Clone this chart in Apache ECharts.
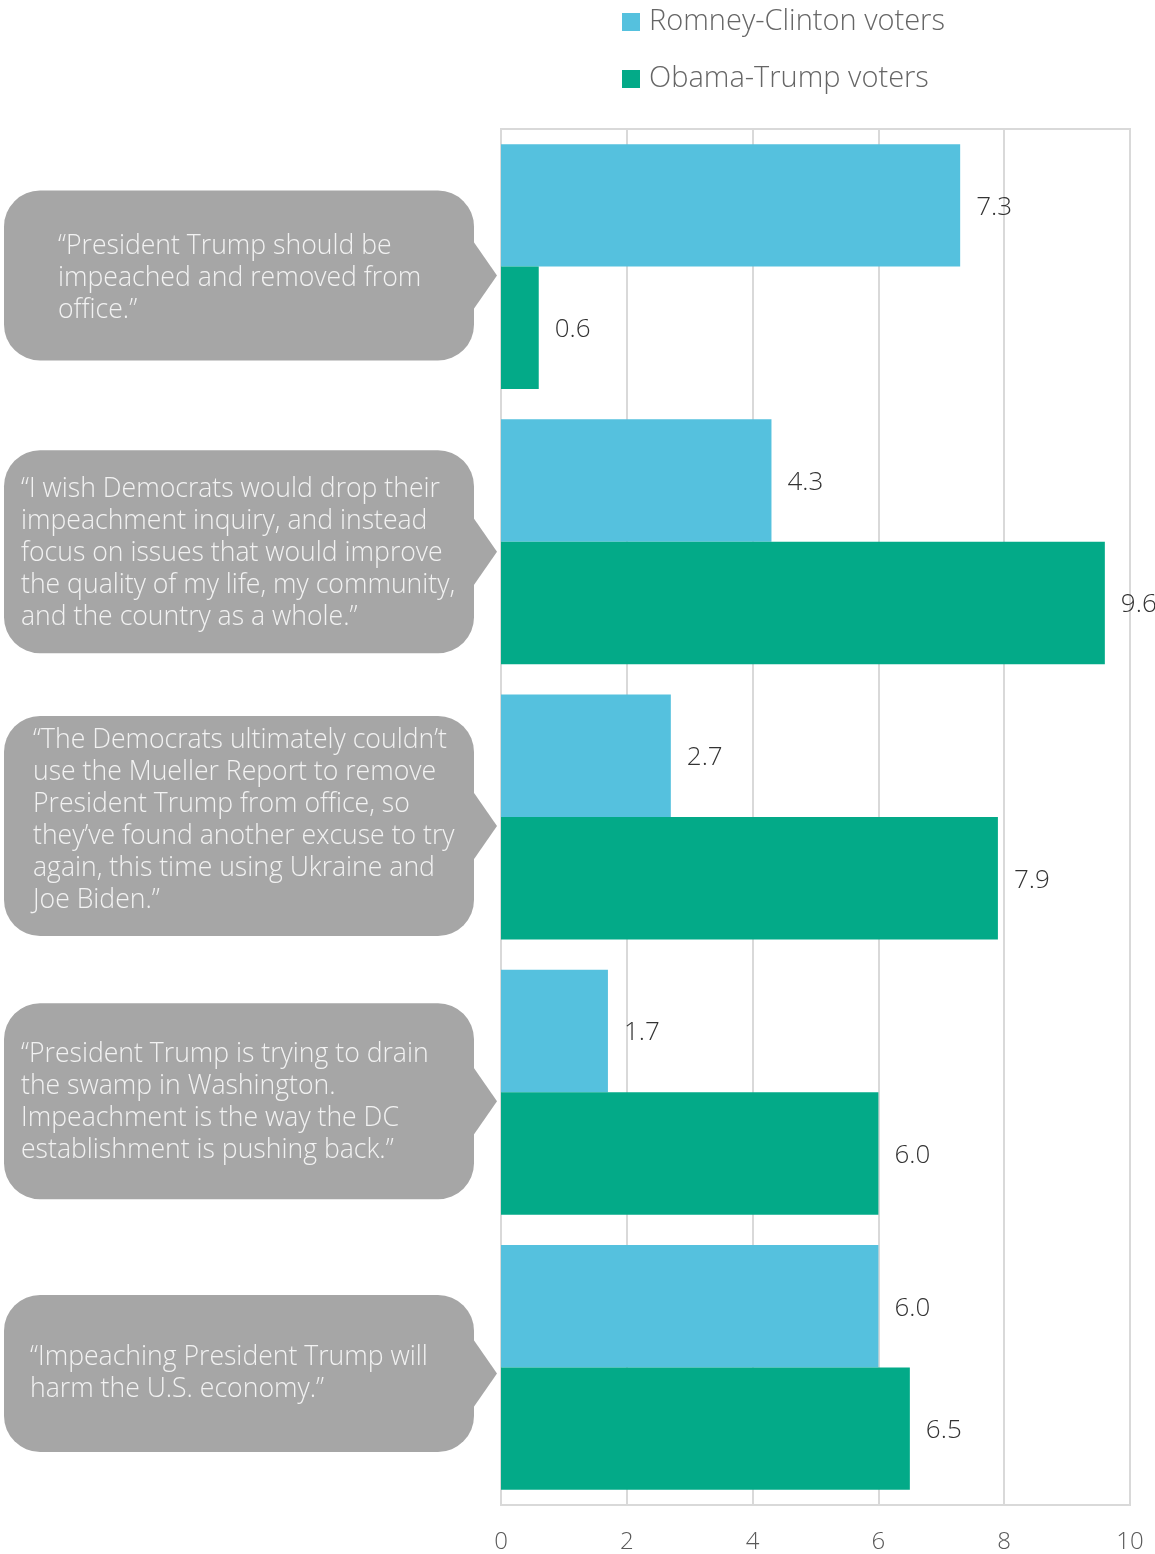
<!DOCTYPE html>
<html>
<head>
<meta charset="utf-8">
<script src="https://cdn.jsdelivr.net/npm/echarts@6/dist/echarts.min.js"></script>
<style>
  html, body { margin: 0; padding: 0; background: #fff; }
  #chart { width: 1155px; height: 1554px; }
</style>
</head>
<body>
<div id="chart"></div>
<script>
// statements shown in the grey callouts, top to bottom
const statements = [
  '\u201cPresident Trump should be\nimpeached and removed from\noffice.\u201d',
  '\u201cI wish Democrats would drop their\nimpeachment inquiry, and instead\nfocus on issues that would improve\nthe quality of my life, my community,\nand the country as a whole.\u201d',
  '\u201cThe Democrats ultimately couldn\u2019t\nuse the Mueller Report to remove\nPresident Trump from office, so\nthey\u2019ve found another excuse to try\nagain, this time using Ukraine and\nJoe Biden.\u201d',
  '\u201cPresident Trump is trying to drain\nthe swamp in Washington.\nImpeachment is the way the DC\nestablishment is pushing back.\u201d',
  '\u201cImpeaching President Trump will\nharm the U.S. economy.\u201d'
];
const romneyClinton = [7.3, 4.3, 2.7, 1.7, 6.0];
const obamaTrump = [0.6, 9.6, 7.9, 6.0, 6.5];

// callout box look (not data)
const boxHeights = [170, 203, 220, 196, 157];
const boxShift = [9, 10, 9, 9, 6];
const textLeft = [58, 21, 33, 21, 30];
const textShift = [3, 2, -6, 1, 0];

const FONT = '"Open Sans", "Noto Sans", sans-serif';
const chart = echarts.init(document.getElementById('chart'));

const valueLabel = {
  show: true,
  position: 'right',
  distance: 16,
  offset: [0, 2],
  fontFamily: FONT,
  fontWeight: 300,
  fontSize: 26,
  color: '#333',
  formatter: (p) => p.value.toFixed(1)
};

chart.setOption({
  animation: false,
  textStyle: { fontFamily: FONT },
  legend: {
    orient: 'vertical',
    left: 617,
    top: 2,
    itemWidth: 18,
    itemHeight: 18,
    itemGap: 27,
    icon: 'rect',
    textStyle: { fontSize: 29, fontWeight: 300, color: '#666', lineHeight: 30, padding: [0, 0, 0, 4] },
    data: ['Romney-Clinton voters', 'Obama-Trump voters']
  },
  grid: {
    left: 501, right: 25, top: 129, bottom: 49,
    show: true, borderColor: '#d9d9d9', borderWidth: 2
  },
  xAxis: {
    type: 'value',
    min: 0, max: 10, interval: 2,
    axisLine: { show: false },
    axisTick: { show: false },
    splitLine: { lineStyle: { color: '#d9d9d9', width: 2 } },
    axisLabel: { fontSize: 24, fontWeight: 300, color: '#595959', margin: 25 }
  },
  yAxis: {
    type: 'category',
    inverse: true,
    data: statements,
    axisLine: { lineStyle: { color: '#d9d9d9', width: 2 } },
    axisTick: { show: false },
    axisLabel: { show: false }
  },
  series: [
    {
      name: 'Romney-Clinton voters',
      type: 'bar',
      data: romneyClinton,
      barGap: 0,
      barCategoryGap: '11%',
      itemStyle: { color: '#55c1de' },
      label: valueLabel
    },
    {
      name: 'Obama-Trump voters',
      type: 'bar',
      data: obamaTrump,
      barGap: 0,
      barCategoryGap: '11%',
      itemStyle: { color: '#03aa88' },
      label: valueLabel
    }
  ]
});

// callout bubbles placed at each category's centre
const callouts = statements.map((text, i) => {
  const cy = chart.convertToPixel({ yAxisIndex: 0 }, i) + boxShift[i];
  const h = boxHeights[i];
  return {
    type: 'group',
    children: [
      {
        type: 'rect',
        shape: { x: 4, y: cy - h / 2, width: 470, height: h, r: 36 },
        style: { fill: '#a6a6a6' }
      },
      {
        type: 'polygon',
        shape: { points: [[472, cy - 36], [497, cy], [472, cy + 36]] },
        style: { fill: '#a6a6a6' }
      },
      {
        type: 'text',
        style: {
          x: textLeft[i], y: cy + textShift[i],
          text: text,
          font: '300 26.6px ' + FONT,
          fill: '#f2f2f2',
          lineHeight: 32,
          verticalAlign: 'middle',
          align: 'left'
        }
      }
    ]
  };
});
chart.setOption({ graphic: callouts });
</script>
</body>
</html>
